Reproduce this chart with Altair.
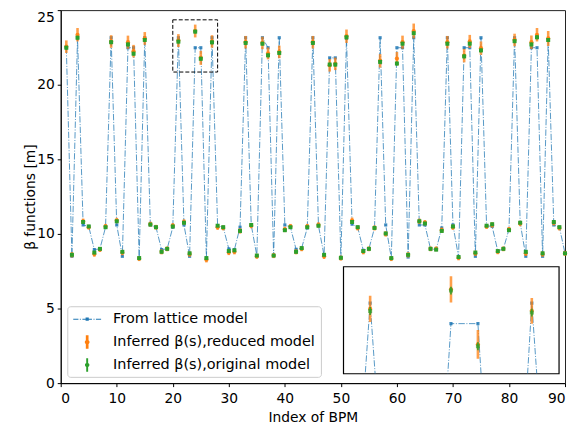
import altair as alt
import pandas as pd

# ---------------- data ----------------
bpm = list(range(1, 91))

beta_lattice = [
    22.5, 8.5, 23.15, 10.6, 10.5, 8.95, 9.0, 10.45, 23.15, 10.6,
    8.5, 22.48, 22.48, 8.38, 23.15, 10.6, 10.45, 8.95, 9.0, 10.45,
    23.15, 10.6, 8.5, 22.48, 22.48, 8.38, 23.15, 10.55, 10.45, 9.0,
    8.95, 10.45, 23.15, 10.6, 8.55, 23.15, 22.48, 8.55, 23.15, 10.6,
    10.45, 8.97, 9.05, 10.4, 23.15, 10.55, 8.55, 21.8, 21.8, 8.38,
    23.1, 10.65, 10.45, 8.9, 9.0, 10.4, 23.15, 10.6, 8.38, 22.48,
    22.48, 8.45, 23.15, 10.6, 10.6, 9.0, 8.95, 10.4, 23.15, 10.6,
    8.45, 22.48, 22.48, 8.5, 23.15, 10.55, 10.5, 8.85, 9.0, 10.3,
    23.15, 10.75, 8.5, 22.48, 22.48, 8.5, 23.0, 10.6, 10.45, 8.7,
]

beta_reduced = [
    22.55, 8.6, 23.35, 10.85, 10.45, 8.65, 8.95, 10.5, 22.9, 10.9,
    8.75, 22.85, 22.25, 8.35, 23.1, 10.65, 10.45, 8.8, 9.0, 10.55,
    22.96, 10.8, 8.65, 23.6, 21.8, 8.27, 22.9, 10.45, 10.4, 8.75,
    8.8, 10.2, 22.85, 10.55, 8.5, 22.8, 22.1, 8.55, 22.2, 10.3,
    10.5, 8.8, 9.0, 10.5, 22.85, 10.6, 8.5, 21.3, 21.4, 8.38,
    23.25, 10.9, 10.4, 8.8, 9.0, 10.4, 21.6, 10.0, 8.35, 21.75,
    22.85, 8.6, 23.6, 10.85, 10.75, 9.0, 9.0, 10.25, 22.85, 10.45,
    8.4, 21.95, 22.9, 8.7, 22.45, 10.5, 10.6, 8.8, 9.0, 10.3,
    23.0, 10.7, 8.7, 22.85, 23.35, 8.65, 23.1, 10.75, 10.4, 8.7,
]

err_reduced = [
    0.42, 0.18, 0.45, 0.18, 0.16, 0.18, 0.16, 0.17, 0.42, 0.18,
    0.18, 0.44, 0.42, 0.17, 0.43, 0.17, 0.16, 0.17, 0.16, 0.17,
    0.43, 0.18, 0.18, 0.43, 0.47, 0.18, 0.42, 0.18, 0.16, 0.17,
    0.17, 0.18, 0.42, 0.17, 0.17, 0.42, 0.40, 0.17, 0.42, 0.18,
    0.17, 0.17, 0.16, 0.17, 0.42, 0.18, 0.18, 0.42, 0.42, 0.17,
    0.45, 0.20, 0.17, 0.17, 0.16, 0.17, 0.45, 0.18, 0.17, 0.45,
    0.44, 0.18, 0.50, 0.18, 0.18, 0.16, 0.16, 0.18, 0.42, 0.18,
    0.17, 0.45, 0.44, 0.18, 0.45, 0.17, 0.18, 0.16, 0.16, 0.17,
    0.42, 0.18, 0.18, 0.45, 0.45, 0.18, 0.50, 0.18, 0.17, 0.17,
]

beta_original = [
    22.48, 8.6, 23.15, 10.8, 10.5, 8.75, 9.0, 10.45, 22.85, 10.85,
    8.8, 22.7, 22.08, 8.38, 23.0, 10.63, 10.45, 8.8, 9.0, 10.5,
    22.89, 10.75, 8.7, 23.56, 21.74, 8.38, 22.84, 10.55, 10.45, 8.85,
    8.9, 10.2, 22.8, 10.6, 8.55, 22.75, 21.97, 8.55, 22.13, 10.25,
    10.45, 8.8, 9.05, 10.45, 22.8, 10.55, 8.6, 21.35, 21.35, 8.4,
    23.18, 10.8, 10.45, 8.85, 9.0, 10.4, 21.53, 10.03, 8.38, 21.42,
    22.75, 8.6, 23.45, 10.85, 10.7, 9.0, 8.95, 10.2, 22.75, 10.5,
    8.45, 21.9, 22.75, 8.75, 22.3, 10.55, 10.65, 8.85, 9.0, 10.25,
    22.92, 10.75, 8.8, 22.7, 23.18, 8.7, 23.0, 10.8, 10.45, 8.7,
]

err_original = [
    0.13, 0.06, 0.13, 0.06, 0.06, 0.06, 0.06, 0.06, 0.13, 0.06,
    0.06, 0.13, 0.13, 0.06, 0.13, 0.06, 0.06, 0.06, 0.06, 0.06,
    0.13, 0.06, 0.06, 0.13, 0.13, 0.06, 0.13, 0.06, 0.06, 0.06,
    0.06, 0.06, 0.13, 0.06, 0.06, 0.13, 0.13, 0.06, 0.13, 0.06,
    0.06, 0.06, 0.06, 0.06, 0.13, 0.06, 0.06, 0.13, 0.13, 0.06,
    0.13, 0.06, 0.06, 0.06, 0.06, 0.06, 0.13, 0.06, 0.06, 0.13,
    0.13, 0.06, 0.13, 0.06, 0.06, 0.06, 0.06, 0.06, 0.13, 0.06,
    0.06, 0.13, 0.13, 0.06, 0.13, 0.06, 0.06, 0.06, 0.06, 0.06,
    0.13, 0.06, 0.06, 0.13, 0.13, 0.06, 0.13, 0.06, 0.06, 0.06,
]

series_names = [
    "From lattice model",
    "Inferred β(s),reduced model",
    "Inferred β(s),original model",
]
series_colors = ["#1f77b4", "#ff7f0e", "#2ca02c"]

x_ticks = [0, 10, 20, 30, 40, 50, 60, 70, 80, 90]
y_ticks = [0, 5, 10, 15, 20, 25]
x_domain = [0, 90]
y_domain = [0, 25]
zoom_x = [20, 28]
zoom_y = [20.85, 24.35]

# legend glyphs (custom symbol paths, unit = half symbol size)
glyph_lattice = (
    "M-1.75,-0.06H-1.1V0.06H-1.75Z"
    "M-0.92,-0.06H-0.8V0.06H-0.92Z"
    "M-0.6,-0.06H0.6V0.06H-0.6Z"
    "M-0.2,-0.2H0.2V0.2H-0.2Z"
    "M0.8,-0.06H0.92V0.06H0.8Z"
    "M1.1,-0.06H1.75V0.06H1.1Z"
)
glyph_reduced = (
    "M-0.17,-0.85H0.17V0.85H-0.17Z"
    "M-0.3,0A0.3,0.3 0 1 1 0.3,0A0.3,0.3 0 1 1 -0.3,0Z"
)
glyph_original = (
    "M-0.12,-0.85H0.12V0.85H-0.12Z"
    "M-0.28,0A0.28,0.28 0 1 1 0.28,0A0.28,0.28 0 1 1 -0.28,0Z"
)
series_glyphs = [glyph_lattice, glyph_reduced, glyph_original]

# ---------------- tables ----------------
df = pd.DataFrame({
    "bpm": bpm,
    "lattice": beta_lattice,
    "reduced": beta_reduced,
    "err_r": err_reduced,
    "original": beta_original,
    "err_o": err_original,
})
df["r_lo"] = df["reduced"] - df["err_r"]
df["r_hi"] = df["reduced"] + df["err_r"]
df["o_lo"] = df["original"] - df["err_o"]
df["o_hi"] = df["original"] + df["err_o"]

box_df = pd.DataFrame({"x0": [zoom_x[0]], "x1": [zoom_x[1]],
                       "y0": [zoom_y[0]], "y1": [zoom_y[1]]})
legend_df = pd.DataFrame({"series": series_names, "bpm": bpm[:3],
                          "lattice": beta_lattice[:3]})

FONT = "DejaVu Sans"
FS = 13.9
BLUE, ORANGE, GREEN = series_colors
PLOT_W, PLOT_H = 507, 375

# ---------------- main panel ----------------
def X(field="bpm"):
    return alt.X(f"{field}:Q",
                 scale=alt.Scale(domain=x_domain, nice=False, zero=False),
                 axis=alt.Axis(values=x_ticks, title="Index of BPM", format="d",
                               titlePadding=5, labelPadding=5))


def Y(field):
    return alt.Y(f"{field}:Q",
                 scale=alt.Scale(domain=y_domain, nice=False, zero=False),
                 axis=alt.Axis(values=y_ticks, title="β functions [m]", format="d",
                               titlePadding=-1, labelPadding=3,
                               labelBaseline={"condition": {"test": "datum.value == 25",
                                                            "value": "top"},
                                              "value": "middle"}))


base = alt.Chart(df)

lat_line = base.mark_line(color=BLUE, strokeWidth=1, opacity=0.75,
                          strokeDash=[6.4, 1.6, 1, 1.6]).encode(x=X(), y=Y("lattice"))
lat_pts = base.mark_square(color=BLUE, size=10, opacity=0.85).encode(x=X(), y=Y("lattice"))
red_bar = base.mark_rule(color=ORANGE, strokeWidth=2.6, opacity=0.75).encode(
    x=X(), y=Y("r_lo"), y2="r_hi")
red_pts = base.mark_circle(color=ORANGE, size=18, opacity=0.9).encode(x=X(), y=Y("reduced"))
org_bar = base.mark_rule(color=GREEN, strokeWidth=1.8, opacity=0.85).encode(
    x=X(), y=Y("o_lo"), y2="o_hi")
org_pts = base.mark_square(color=GREEN, size=16, opacity=1).encode(x=X(), y=Y("original"))

zoom_box = alt.Chart(box_df).mark_rect(
    fill="transparent", stroke="black", strokeWidth=1, strokeDash=[4, 2]
).encode(x=X("x0"), x2="x1", y=Y("y0"), y2="y1")

legend_kw = dict(
    title=None, orient="none", legendX=6.6, legendY=297.7,
    symbolSize=256, symbolStrokeWidth=0, symbolOffset=7, labelOffset=18,
    padding=5, rowPadding=8, strokeColor="#cccccc", fillColor="white",
    cornerRadius=3, labelFont=FONT, labelFontSize=14.5, labelColor="black",
    labelLimit=400, labelExpr="datum.label + ' '",
)
legend_layer = alt.Chart(legend_df).mark_point(filled=True, opacity=1).encode(
    x=X(), y=Y("lattice"),
    color=alt.Color("series:N",
                    scale=alt.Scale(domain=series_names, range=series_colors),
                    legend=alt.Legend(**legend_kw)),
    shape=alt.Shape("series:N",
                    scale=alt.Scale(domain=series_names, range=series_glyphs),
                    legend=alt.Legend(**legend_kw)),
).transform_filter("false")

main = alt.layer(
    lat_line, lat_pts, red_bar, red_pts, org_bar, org_pts, zoom_box, legend_layer
).properties(width=PLOT_W, height=PLOT_H,
             view=alt.ViewBackground(stroke="#222222", strokeWidth=1))

# ---------------- inset panel ----------------
def IX():
    return alt.X("bpm:Q", scale=alt.Scale(domain=zoom_x, nice=False, zero=False), axis=None)


def IY(field):
    return alt.Y(f"{field}:Q", scale=alt.Scale(domain=zoom_y, nice=False, zero=False), axis=None)


ib = alt.Chart(df)
inset = alt.layer(
    ib.mark_line(color=BLUE, strokeWidth=1, opacity=0.75, clip=True,
                 strokeDash=[6.4, 1.6, 1, 1.6]).encode(x=IX(), y=IY("lattice")),
    ib.mark_square(color=BLUE, size=10, opacity=0.85, clip=True).encode(x=IX(), y=IY("lattice")),
    ib.mark_rule(color=ORANGE, strokeWidth=2.6, opacity=0.75, clip=True).encode(
        x=IX(), y=IY("r_lo"), y2="r_hi"),
    ib.mark_circle(color=ORANGE, size=18, opacity=0.9, clip=True).encode(x=IX(), y=IY("reduced")),
    ib.mark_rule(color=GREEN, strokeWidth=1.8, opacity=0.85, clip=True).encode(
        x=IX(), y=IY("o_lo"), y2="o_hi"),
    ib.mark_square(color=GREEN, size=16, clip=True).encode(x=IX(), y=IY("original")),
).properties(width=216.7, height=107.6,
             view=alt.ViewBackground(stroke="black", strokeWidth=1.2, fill="white"))

spacer = alt.Chart(legend_df).mark_point(opacity=0).encode(
    x=alt.X("bpm:Q", axis=None), y=alt.Y("lattice:Q", axis=None)
).properties(width=283.3, height=107.6, view=alt.ViewBackground(strokeOpacity=0))

row2 = alt.hconcat(spacer, inset, spacing=0, bounds="flush")

chart = alt.concat(main, row2, columns=1).properties(
    align="none", bounds="flush", spacing=257.7 - PLOT_H,
    padding={"left": 15, "top": 0, "right": 0, "bottom": 5},
).configure_axis(
    labelFont=FONT, titleFont=FONT, labelFontSize=FS, titleFontSize=FS,
    labelColor="black", titleColor="black", titleFontWeight="normal",
    tickColor="black", domainColor="black", tickSize=3.5,
    domainWidth=1, tickWidth=1, grid=False,
).configure_view(stroke="#222222")

chart.save("out.html", embed_options={"renderer": "svg", "actions": False})
